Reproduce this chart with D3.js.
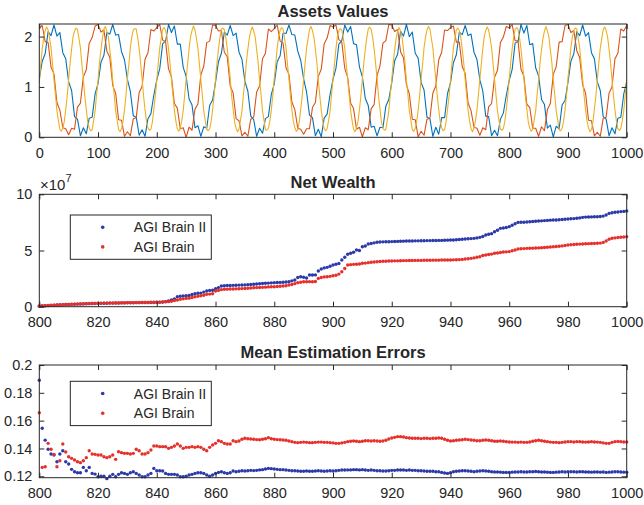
<!DOCTYPE html>
<html>
<head>
<meta charset="utf-8">
<script src="https://cdn.jsdelivr.net/npm/d3@7"></script>
<style>
	body { margin: 0; background: #fff; }
	svg text { font-family: "Liberation Sans", Arial, Helvetica, sans-serif; fill: #262626; }
</style>
</head>
<body>
<svg id="chart" width="644" height="505"></svg>
<script>
// === Data ===

// Assets Values: blue and orange sampled every 5 steps, yellow every 2.5 steps
const assetX = d3.range(0, 1001, 5);
const yellowX = d3.range(0, 1000.1, 2.5);

const assetBlue = [
	1.16, 1.51, 1.66, 2.10, 2.02, 2.23, 2.01, 2.08, 1.68, 1.56, 1.10, 0.93, 0.41, 0.36, 0.03, 0.19, 0.07, 0.38, 0.40, 0.86,
	1.07, 1.49, 1.63, 2.08, 2.05, 2.24, 2.03, 2.04, 1.70, 1.54, 1.15, 0.91, 0.43, 0.40, 0.04, 0.15, 0.02, 0.37, 0.47, 0.84,
	1.14, 1.36, 1.86, 1.91, 2.24, 2.08, 2.21, 1.85, 1.85, 1.39, 1.21, 0.76, 0.64, 0.19, 0.23, 0.02, 0.21, 0.18, 0.63, 0.74,
	1.09, 1.50, 1.67, 2.09, 2.03, 2.22, 2.02, 2.07, 1.69, 1.55, 1.11, 0.92, 0.42, 0.35, 0.02, 0.18, 0.08, 0.37, 0.41, 0.85,
	1.06, 1.50, 1.62, 2.07, 2.06, 2.23, 2.04, 2.03, 1.71, 1.53, 1.16, 0.90, 0.44, 0.39, 0.03, 0.16, 0.01, 0.38, 0.46, 0.85,
	1.15, 1.37, 1.85, 1.92, 2.23, 2.09, 2.20, 1.86, 1.84, 1.40, 1.20, 0.77, 0.63, 0.20, 0.22, 0.03, 0.20, 0.19, 0.62, 0.75,
	1.08, 1.52, 1.65, 2.11, 2.01, 2.24, 2.00, 2.09, 1.67, 1.57, 1.09, 0.94, 0.40, 0.37, 0.02, 0.20, 0.06, 0.39, 0.39, 0.87,
	1.08, 1.48, 1.64, 2.09, 2.04, 2.22, 2.02, 2.05, 1.69, 1.55, 1.14, 0.92, 0.42, 0.41, 0.03, 0.14, 0.03, 0.36, 0.48, 0.83,
	1.13, 1.35, 1.87, 1.90, 2.24, 2.07, 2.22, 1.84, 1.86, 1.38, 1.22, 0.75, 0.65, 0.18, 0.24, 0.01, 0.22, 0.17, 0.64, 0.73,
	1.09, 1.51, 1.66, 2.10, 2.02, 2.23, 2.01, 2.08, 1.68, 1.56, 1.10, 0.93, 0.41, 0.36, 0.03, 0.19, 0.07, 0.38, 0.40, 0.86,
	1.10
];

const assetOrange = [
	2.17, 2.22, 1.90, 1.88, 1.39, 1.26, 0.69, 0.54, 0.19, 0.17, 0.05, 0.18, 0.16, 0.60, 0.68, 1.20, 1.34, 1.87, 1.98, 2.21,
	2.24, 2.09, 2.13, 1.71, 1.59, 1.03, 0.87, 0.35, 0.34, 0.02, 0.11, 0.03, 0.37, 0.39, 0.89, 1.01, 1.55, 1.68, 2.14, 2.11,
	2.18, 2.24, 1.93, 1.90, 1.36, 1.20, 0.67, 0.58, 0.17, 0.19, 0.00, 0.20, 0.14, 0.56, 0.66, 1.24, 1.41, 1.88, 1.91, 2.23,
	2.22, 2.11, 2.12, 1.69, 1.60, 1.02, 0.88, 0.37, 0.33, 0.03, 0.10, 0.02, 0.36, 0.40, 0.90, 1.02, 1.56, 1.67, 2.15, 2.10,
	2.16, 2.23, 1.91, 1.87, 1.38, 1.25, 0.70, 0.55, 0.18, 0.16, 0.06, 0.17, 0.17, 0.59, 0.69, 1.21, 1.35, 1.86, 1.97, 2.22,
	2.19, 2.23, 1.94, 1.89, 1.37, 1.19, 0.68, 0.57, 0.16, 0.20, 0.01, 0.19, 0.15, 0.57, 0.65, 1.23, 1.42, 1.87, 1.92, 2.24,
	2.23, 2.10, 2.14, 1.70, 1.58, 1.04, 0.86, 0.36, 0.35, 0.01, 0.12, 0.04, 0.36, 0.38, 0.88, 1.02, 1.54, 1.69, 2.13, 2.12,
	2.18, 2.21, 1.89, 1.89, 1.40, 1.27, 0.68, 0.53, 0.20, 0.18, 0.04, 0.19, 0.15, 0.61, 0.67, 1.19, 1.33, 1.88, 1.99, 2.20,
	2.17, 2.24, 1.92, 1.91, 1.35, 1.21, 0.66, 0.59, 0.18, 0.18, 0.02, 0.21, 0.13, 0.55, 0.67, 1.25, 1.40, 1.89, 1.90, 2.22,
	2.24, 2.08, 2.12, 1.72, 1.58, 1.04, 0.88, 0.34, 0.33, 0.03, 0.10, 0.02, 0.38, 0.40, 0.88, 1.00, 1.56, 1.67, 2.15, 2.11,
	2.22
];

const assetYellow = [
	1.08, 1.45, 1.76, 1.98, 2.12, 2.19, 2.13, 1.97, 1.77, 1.46, 1.14, 0.84, 0.53, 0.33, 0.16, 0.12, 0.18, 0.31, 0.55, 0.82,
	1.16, 1.48, 1.75, 2.00, 2.11, 2.17, 2.14, 1.96, 1.78, 1.45, 1.17, 0.81, 0.56, 0.30, 0.18, 0.13, 0.15, 0.34, 0.52, 0.85,
	1.13, 1.49, 1.74, 1.97, 2.15, 2.20, 2.11, 2.00, 1.74, 1.49, 1.13, 0.85, 0.52, 0.34, 0.15, 0.11, 0.17, 0.32, 0.54, 0.83,
	1.17, 1.45, 1.78, 1.99, 2.13, 2.16, 2.15, 1.98, 1.76, 1.47, 1.16, 0.82, 0.55, 0.31, 0.19, 0.14, 0.16, 0.30, 0.56, 0.81,
	1.14, 1.47, 1.77, 1.96, 2.14, 2.18, 2.12, 1.99, 1.75, 1.48, 1.14, 0.83, 0.54, 0.32, 0.17, 0.12, 0.18, 0.33, 0.53, 0.84,
	1.15, 1.46, 1.76, 2.00, 2.12, 2.21, 2.13, 1.97, 1.77, 1.46, 1.15, 0.84, 0.53, 0.33, 0.16, 0.13, 0.17, 0.31, 0.55, 0.82,
	1.16, 1.48, 1.75, 1.98, 2.15, 2.17, 2.14, 1.98, 1.76, 1.47, 1.17, 0.81, 0.56, 0.30, 0.18, 0.11, 0.16, 0.34, 0.52, 0.85,
	1.13, 1.49, 1.74, 1.97, 2.11, 2.19, 2.11, 2.00, 1.74, 1.49, 1.13, 0.85, 0.52, 0.34, 0.15, 0.14, 0.18, 0.32, 0.54, 0.83,
	1.17, 1.45, 1.78, 1.99, 2.13, 2.18, 2.15, 1.96, 1.78, 1.45, 1.16, 0.82, 0.55, 0.31, 0.19, 0.12, 0.15, 0.30, 0.56, 0.81,
	1.14, 1.47, 1.77, 1.96, 2.14, 2.20, 2.12, 1.99, 1.75, 1.48, 1.14, 0.83, 0.54, 0.32, 0.17, 0.13, 0.17, 0.33, 0.53, 0.84,
	1.15, 1.46, 1.76, 2.00, 2.12, 2.16, 2.13, 1.97, 1.77, 1.46, 1.15, 0.84, 0.53, 0.33, 0.16, 0.11, 0.18, 0.31, 0.55, 0.82,
	1.16, 1.48, 1.75, 1.98, 2.15, 2.19, 2.14, 1.98, 1.76, 1.47, 1.17, 0.81, 0.56, 0.30, 0.18, 0.14, 0.16, 0.34, 0.52, 0.85,
	1.13, 1.49, 1.74, 1.97, 2.11, 2.18, 2.11, 2.00, 1.74, 1.49, 1.13, 0.85, 0.52, 0.34, 0.15, 0.12, 0.17, 0.32, 0.54, 0.83,
	1.17, 1.45, 1.78, 1.99, 2.13, 2.20, 2.15, 1.96, 1.78, 1.45, 1.16, 0.82, 0.55, 0.31, 0.19, 0.13, 0.15, 0.30, 0.56, 0.81,
	1.14, 1.47, 1.77, 1.96, 2.14, 2.17, 2.12, 1.99, 1.75, 1.48, 1.14, 0.83, 0.54, 0.32, 0.17, 0.11, 0.18, 0.33, 0.53, 0.84,
	1.15, 1.46, 1.76, 2.00, 2.12, 2.19, 2.13, 1.97, 1.77, 1.46, 1.15, 0.84, 0.53, 0.33, 0.16, 0.14, 0.17, 0.31, 0.55, 0.82,
	1.16, 1.48, 1.75, 1.98, 2.15, 2.18, 2.14, 1.98, 1.76, 1.47, 1.17, 0.81, 0.56, 0.30, 0.18, 0.12, 0.16, 0.34, 0.52, 0.85,
	1.13, 1.49, 1.74, 1.97, 2.11, 2.20, 2.11, 2.00, 1.74, 1.49, 1.13, 0.85, 0.52, 0.34, 0.15, 0.13, 0.18, 0.32, 0.54, 0.83,
	1.17, 1.45, 1.78, 1.99, 2.13, 2.17, 2.15, 1.96, 1.78, 1.45, 1.16, 0.82, 0.55, 0.31, 0.19, 0.11, 0.15, 0.30, 0.56, 0.81,
	1.14, 1.47, 1.77, 1.96, 2.14, 2.19, 2.12, 1.99, 1.75, 1.48, 1.14, 0.83, 0.54, 0.32, 0.17, 0.14, 0.17, 0.33, 0.53, 0.84,
	1.15
];

// Net Wealth and errors, one point per step from 800 to 1000
const stepX = d3.range(800, 1001);

const wealthBrain2 = [ // x 1e7
	0.05, 0.07, 0.09, 0.10, 0.12, 0.13, 0.15, 0.16, 0.17, 0.19,
	0.20, 0.21, 0.22, 0.23, 0.24, 0.25, 0.26, 0.27, 0.28, 0.29,
	0.30, 0.30, 0.31, 0.31, 0.32, 0.32, 0.33, 0.33, 0.34, 0.34,
	0.35, 0.35, 0.35, 0.36, 0.36, 0.37, 0.37, 0.37, 0.38, 0.38,
	0.39, 0.40, 0.42, 0.45, 0.52, 0.60, 0.70, 0.89, 0.93, 0.95,
	0.98, 1.00, 1.08, 1.15, 1.19, 1.21, 1.30, 1.40, 1.45, 1.47,
	1.60, 1.70, 1.84, 1.86, 1.88, 1.89, 1.90, 1.91, 1.92, 1.93,
	1.94, 1.96, 1.98, 2.00, 2.02, 2.04, 2.06, 2.08, 2.10, 2.12,
	2.14, 2.15, 2.16, 2.18, 2.20, 2.22, 2.30, 2.37, 2.60, 2.67,
	2.62, 2.55, 2.82, 2.82, 2.83, 3.18, 3.35, 3.45, 3.50, 3.60,
	3.71, 3.78, 3.85, 4.15, 4.40, 4.66, 4.75, 4.85, 5.04, 5.00,
	5.34, 5.40, 5.58, 5.62, 5.68, 5.73, 5.75, 5.77, 5.78, 5.78,
	5.79, 5.80, 5.81, 5.82, 5.83, 5.84, 5.85, 5.85, 5.86, 5.86,
	5.87, 5.87, 5.88, 5.88, 5.89, 5.89, 5.90, 5.90, 5.91, 5.92,
	5.93, 5.94, 5.96, 5.98, 6.00, 6.02, 6.04, 6.06, 6.08, 6.12,
	6.17, 6.25, 6.38, 6.45, 6.50, 6.67, 6.80, 6.97, 7.00, 7.05,
	7.12, 7.25, 7.38, 7.50, 7.51, 7.52, 7.54, 7.56, 7.58, 7.60,
	7.62, 7.64, 7.66, 7.68, 7.70, 7.71, 7.72, 7.74, 7.76, 7.78,
	7.80, 7.82, 7.84, 7.87, 7.90, 7.95, 7.97, 7.98, 7.99, 8.00,
	8.00, 8.02, 8.06, 8.16, 8.30, 8.36, 8.40, 8.43, 8.46, 8.48,
	8.51
];

const wealthBrain = [ // x 1e7
	0.06, 0.08, 0.10, 0.11, 0.13, 0.14, 0.16, 0.17, 0.18, 0.20,
	0.21, 0.22, 0.23, 0.24, 0.25, 0.26, 0.27, 0.28, 0.29, 0.30,
	0.31, 0.31, 0.32, 0.32, 0.33, 0.33, 0.34, 0.34, 0.35, 0.35,
	0.36, 0.36, 0.36, 0.37, 0.37, 0.38, 0.38, 0.38, 0.39, 0.39,
	0.40, 0.41, 0.42, 0.44, 0.45, 0.48, 0.55, 0.60, 0.66, 0.70,
	0.74, 0.76, 0.82, 0.89, 0.92, 0.98, 1.02, 1.10, 1.12, 1.15,
	1.40, 1.45, 1.52, 1.55, 1.56, 1.57, 1.58, 1.59, 1.60, 1.61,
	1.62, 1.64, 1.66, 1.68, 1.70, 1.71, 1.72, 1.74, 1.76, 1.77,
	1.78, 1.80, 1.82, 1.84, 1.86, 1.93, 1.98, 2.05, 2.14, 2.18,
	2.22, 2.22, 2.23, 2.22, 2.24, 2.52, 2.60, 2.65, 2.67, 2.70,
	2.75, 2.80, 2.90, 3.11, 3.40, 3.71, 3.74, 3.77, 3.78, 3.80,
	3.86, 3.88, 3.92, 3.95, 3.98, 4.00, 4.02, 4.04, 4.05, 4.06,
	4.07, 4.08, 4.08, 4.09, 4.10, 4.10, 4.11, 4.11, 4.12, 4.12,
	4.12, 4.13, 4.13, 4.13, 4.14, 4.14, 4.14, 4.15, 4.15, 4.15,
	4.16, 4.17, 4.18, 4.19, 4.21, 4.24, 4.27, 4.30, 4.34, 4.40,
	4.45, 4.55, 4.60, 4.65, 4.68, 4.75, 4.78, 4.82, 4.86, 4.88,
	4.90, 4.98, 5.05, 5.13, 5.15, 5.17, 5.19, 5.20, 5.21, 5.22,
	5.23, 5.25, 5.27, 5.29, 5.31, 5.34, 5.36, 5.38, 5.41, 5.45,
	5.49, 5.51, 5.53, 5.55, 5.57, 5.58, 5.60, 5.61, 5.62, 5.63,
	5.64, 5.66, 5.72, 5.85, 6.00, 6.09, 6.12, 6.15, 6.18, 6.20,
	6.23
];

const errorBrain2 = [
	0.1890, 0.1545, 0.1460, 0.1394, 0.1360, 0.1353, 0.1305, 0.1360, 0.1384, 0.1305,
	0.1288, 0.1250, 0.1233, 0.1226, 0.1226, 0.1264, 0.1240, 0.1264, 0.1221, 0.1216,
	0.1197, 0.1200, 0.1200, 0.1183, 0.1200, 0.1214, 0.1197, 0.1214, 0.1226, 0.1221,
	0.1214, 0.1226, 0.1233, 0.1221, 0.1209, 0.1197, 0.1197, 0.1209, 0.1221, 0.1257,
	0.1240, 0.1240, 0.1238, 0.1221, 0.1214, 0.1214, 0.1214, 0.1209, 0.1197, 0.1197,
	0.1200, 0.1209, 0.1214, 0.1221, 0.1226, 0.1226, 0.1221, 0.1209, 0.1200, 0.1209,
	0.1221, 0.1228, 0.1233, 0.1226, 0.1221, 0.1226,
	0.1238, 0.1233, 0.1236, 0.1240, 0.1238, 0.1240, 0.1243, 0.1241, 0.1243, 0.1246, 0.1248, 0.1252, 0.1257, 0.1255,
	0.1252, 0.1250, 0.1248, 0.1248, 0.1245, 0.1243, 0.1240, 0.1240, 0.1238, 0.1236, 0.1236, 0.1238, 0.1236, 0.1236, 0.1238, 0.1240, 0.1238, 0.1236, 0.1238, 0.1240,
	0.1238, 0.1240, 0.1243, 0.1245, 0.1245, 0.1246, 0.1246, 0.1248, 0.1248, 0.1246, 0.1248, 0.1245, 0.1243, 0.1245, 0.1243, 0.1240, 0.1240, 0.1238, 0.1238, 0.1240,
	0.1243, 0.1243, 0.1245, 0.1245, 0.1245, 0.1243, 0.1245, 0.1243, 0.1243, 0.1240, 0.1240, 0.1238, 0.1236, 0.1236, 0.1236, 0.1233, 0.1233, 0.1228, 0.1224, 0.1221,
	0.1226, 0.1233, 0.1236, 0.1238, 0.1240, 0.1240, 0.1238, 0.1236, 0.1233, 0.1236, 0.1238, 0.1240, 0.1238, 0.1236, 0.1233, 0.1231, 0.1231, 0.1230, 0.1228, 0.1228,
	0.1228, 0.1230, 0.1231, 0.1231, 0.1233, 0.1231, 0.1231, 0.1233, 0.1233, 0.1235, 0.1233, 0.1231, 0.1231, 0.1230, 0.1228, 0.1228, 0.1230, 0.1231, 0.1233, 0.1231,
	0.1233, 0.1233, 0.1233, 0.1231, 0.1233, 0.1233, 0.1231, 0.1231, 0.1230, 0.1231, 0.1231, 0.1230, 0.1231, 0.1228, 0.1230, 0.1231, 0.1233, 0.1233, 0.1231, 0.1230,
	0.1230
];

const errorBrain = [
	0.1657, 0.1264, 0.1269, 0.1437, 0.1394, 0.1358, 0.1269, 0.1312, 0.1432, 0.1375,
	0.1341, 0.1329, 0.1317, 0.1305, 0.1298, 0.1312, 0.1334, 0.1384, 0.1360, 0.1358,
	0.1353, 0.1353, 0.1341, 0.1334, 0.1341, 0.1353, 0.1322, 0.1377, 0.1370, 0.1365,
	0.1365, 0.1360, 0.1365, 0.1394, 0.1384, 0.1360, 0.1360, 0.1370, 0.1389, 0.1418,
	0.1418, 0.1413, 0.1413, 0.1413, 0.1401, 0.1408, 0.1418, 0.1432, 0.1418, 0.1401,
	0.1408, 0.1408, 0.1413, 0.1408, 0.1413, 0.1408, 0.1394, 0.1384, 0.1408, 0.1425,
	0.1437, 0.1456, 0.1449, 0.1437, 0.1432, 0.1432, 0.1456,
	0.1449, 0.1454, 0.1466, 0.1473, 0.1470, 0.1468, 0.1466, 0.1464, 0.1463, 0.1466, 0.1470, 0.1478, 0.1470,
	0.1466, 0.1464, 0.1463, 0.1461, 0.1459, 0.1454, 0.1449, 0.1444, 0.1442, 0.1444, 0.1446, 0.1444, 0.1442, 0.1442, 0.1444, 0.1446, 0.1446, 0.1444, 0.1444, 0.1442,
	0.1440, 0.1437, 0.1437, 0.1440, 0.1444, 0.1449, 0.1452, 0.1454, 0.1452, 0.1449, 0.1452, 0.1456, 0.1456, 0.1454, 0.1456, 0.1454, 0.1452, 0.1454, 0.1459, 0.1468,
	0.1475, 0.1480, 0.1485, 0.1485, 0.1482, 0.1478, 0.1475, 0.1473, 0.1473, 0.1473, 0.1471, 0.1473, 0.1473, 0.1471, 0.1473, 0.1473, 0.1475, 0.1473, 0.1466, 0.1459,
	0.1454, 0.1456, 0.1459, 0.1461, 0.1463, 0.1466, 0.1464, 0.1461, 0.1459, 0.1456, 0.1456, 0.1459, 0.1461, 0.1459, 0.1456, 0.1452, 0.1452, 0.1454, 0.1452, 0.1449,
	0.1447, 0.1446, 0.1446, 0.1444, 0.1446, 0.1444, 0.1444, 0.1447, 0.1452, 0.1456, 0.1459, 0.1456, 0.1452, 0.1449, 0.1446, 0.1444, 0.1444, 0.1442, 0.1444, 0.1447,
	0.1449, 0.1449, 0.1447, 0.1449, 0.1449, 0.1447, 0.1446, 0.1447, 0.1449, 0.1447, 0.1446, 0.1444, 0.1440, 0.1437, 0.1437, 0.1444, 0.1449, 0.1451, 0.1449, 0.1447,
	0.1447
];

const legendLabels = ['AGI Brain II', 'AGI Brain'];
const assetTicksX = d3.range(0, 1001, 100);
const stepTicksX = d3.range(800, 1001, 20);


// === Layout ===
const svg = d3.select('#chart');
const left = 39.3, right = 626.7;
const innerW = right - left;
const ink = '#262626';
const colors = {blue: '#0072BD', orange: '#D95319', yellow: '#EDB120', brain2: '#2b3aa8', brain: '#e5302b'};

function makePanel(top, bottom, xDomain, yDomain) {
	const g = svg.append('g').attr('transform', `translate(${left},${top})`);
	const h = bottom - top;
	const x = d3.scaleLinear().domain(xDomain).range([0, innerW]);
	const y = d3.scaleLinear().domain(yDomain).range([h, 0]);
	return {g, x, y, h};
}

function drawAxes(p, xTicks, yTicks, yFmt) {
	const font = (sel) => sel.attr('font-size', 14.5).attr('font-family', '"Liberation Sans", Arial, sans-serif').attr('color', ink);
	const strip = (sel) => sel.select('.domain').remove();

	p.g.append('g').attr('transform', `translate(0,${p.h})`)
		.call(d3.axisBottom(p.x).tickValues(xTicks).tickSize(-5).tickPadding(10).tickFormat(d3.format('d')))
		.call(font).call(strip);
	p.g.append('g')
		.call(d3.axisTop(p.x).tickValues(xTicks).tickSize(-5).tickFormat(''))
		.call(font).call(strip);
	p.g.append('g')
		.call(d3.axisLeft(p.y).tickValues(yTicks).tickSize(-5).tickPadding(7).tickFormat(yFmt))
		.call(font).call(strip);
	p.g.append('g').attr('transform', `translate(${innerW},0)`)
		.call(d3.axisRight(p.y).tickValues(yTicks).tickSize(-5).tickFormat(''))
		.call(font).call(strip);

	p.g.append('rect')
		.attr('width', innerW).attr('height', p.h)
		.attr('fill', 'none').attr('stroke', ink).attr('stroke-width', 1);
}

function drawTitle(text, baseline) {
	svg.append('text')
		.attr('x', left + innerW / 2).attr('y', baseline)
		.attr('text-anchor', 'middle')
		.style('font-size', '16.5px').style('font-weight', 'bold')
		.text(text);
}

function drawDots(p, xs, ys, color) {
	p.g.append('g').selectAll('circle').data(ys).join('circle')
		.attr('cx', (d, i) => p.x(xs[i]))
		.attr('cy', d => p.y(d))
		.attr('r', 1.7)
		.attr('fill', color);
}

function drawLegend(p, top) {
	const lg = svg.append('g').attr('transform', `translate(70.3,${top})`);
	lg.append('rect').attr('width', 141).attr('height', 44.3)
		.attr('fill', '#fff').attr('stroke', ink).attr('stroke-width', 1);
	const rows = lg.selectAll('.row').data(legendLabels).join('g')
		.attr('class', 'row')
		.attr('transform', (d, i) => `translate(0,${12.2 + i * 19.7})`);
	rows.append('circle').attr('cx', 32.4).attr('r', 1.8)
		.attr('fill', (d, i) => i === 0 ? colors.brain2 : colors.brain);
	rows.append('text').attr('x', 63.5).attr('dy', '0.36em')
		.style('font-size', '14px').text(d => d);
}


// === Panel 1: Assets Values ===
const p1 = makePanel(24, 137.3, [0, 1000], [0, 2.25]);
svg.append('clipPath').attr('id', 'clip1').append('rect').attr('width', innerW).attr('height', p1.h);
const line1 = (xs) => d3.line().x((d, i) => p1.x(xs[i])).y(d => p1.y(d));
const lines = p1.g.append('g').attr('clip-path', 'url(#clip1)');
[[assetBlue, assetX, colors.blue], [assetOrange, assetX, colors.orange], [assetYellow, yellowX, colors.yellow]]
	.forEach(([vals, xs, c]) => {
		lines.append('path').datum(vals)
			.attr('d', line1(xs))
			.attr('fill', 'none').attr('stroke', c).attr('stroke-width', 1.1)
			.attr('stroke-linejoin', 'round');
	});
drawAxes(p1, assetTicksX, [0, 1, 2], d3.format('d'));
drawTitle('Assets Values', 17);

// === Panel 2: Net Wealth ===
const p2 = makePanel(194.3, 306.7, [800, 1000], [0, 10]);
drawDots(p2, stepX, wealthBrain2, colors.brain2);
drawDots(p2, stepX, wealthBrain, colors.brain);
drawAxes(p2, stepTicksX, [0, 5, 10], d3.format('d'));
drawLegend(p2, 215);
drawTitle('Net Wealth', 188);
const expo = svg.append('text').attr('x', 40).attr('y', 190).style('font-size', '15px');
expo.append('tspan').text('\u00d710');
expo.append('tspan').attr('dy', -8).style('font-size', '11px').text('7');

// === Panel 3: Mean Estimation Errors ===
const p3 = makePanel(365, 477.7, [800, 1000], [0.119, 0.2]);
drawDots(p3, stepX, errorBrain2, colors.brain2);
drawDots(p3, stepX, errorBrain, colors.brain);
drawAxes(p3, stepTicksX, [0.12, 0.14, 0.16, 0.18, 0.2], d => d === 0.2 ? '0.2' : d3.format('.2f')(d));
drawLegend(p3, 381.3);
drawTitle('Mean Estimation Errors', 358);
</script>
</body>
</html>
